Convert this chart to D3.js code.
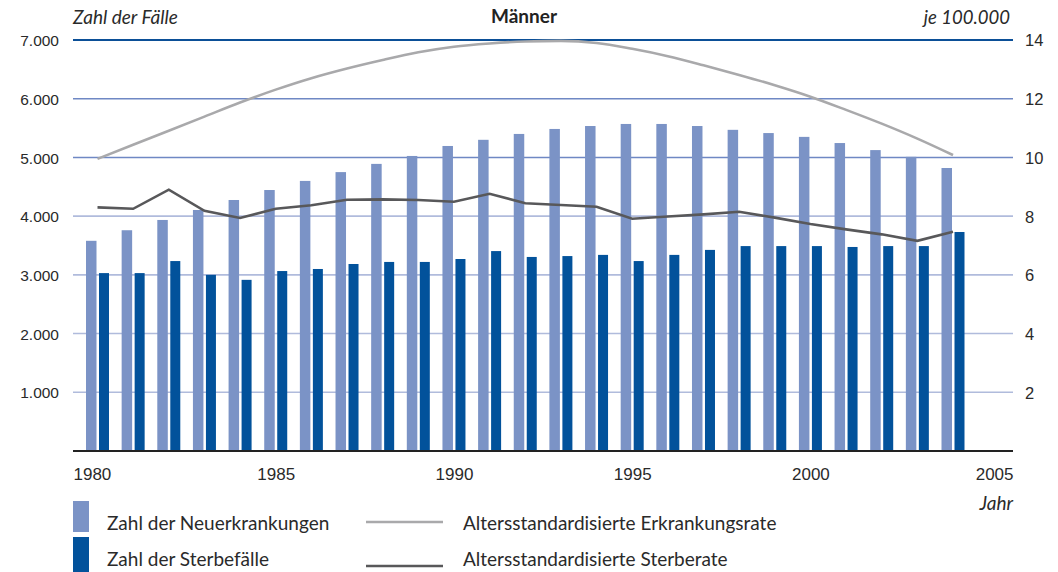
<!DOCTYPE html>
<html>
<head>
<meta charset="utf-8">
<script src="https://cdn.jsdelivr.net/npm/d3@7"></script>
<style>
  html, body { margin: 0; padding: 0; background: #fff; }
  svg { display: block; font-family: "Lato", "Open Sans", sans-serif; }
  .tick text { fill: #2a2a2a; font-variant-numeric: oldstyle-nums; }
</style>
</head>
<body>
<svg id="chart" width="1058" height="572"></svg>
<script>
// Jahre (Kategorien)
const years = [1980, 1981, 1982, 1983, 1984, 1985, 1986, 1987, 1988, 1989,
               1990, 1991, 1992, 1993, 1994, 1995, 1996, 1997, 1998, 1999,
               2000, 2001, 2002, 2003, 2004];

// Zahl der Neuerkrankungen (linke Achse)
const neuerkrankungen = [3580, 3760, 3935, 4105, 4275, 4445, 4600, 4750, 4890, 5025,
                         5195, 5300, 5400, 5485, 5535, 5570, 5570, 5535, 5470, 5415,
                         5350, 5245, 5125, 5010, 4820];

// Zahl der Sterbefälle (linke Achse)
const sterbefaelle = [3030, 3030, 3235, 3000, 2915, 3065, 3100, 3185, 3220, 3220,
                      3270, 3405, 3305, 3320, 3340, 3235, 3340, 3425, 3490, 3490,
                      3490, 3475, 3490, 3490, 3730];

// Altersstandardisierte Erkrankungsrate je 100.000 (rechte Achse)
const erkrankungsrate = [9.95, 10.43, 10.91, 11.39, 11.87, 12.31, 12.7, 13.03, 13.32, 13.58,
                         13.77, 13.88, 13.95, 13.97, 13.9, 13.7, 13.45, 13.14, 12.81, 12.46,
                         12.07, 11.62, 11.15, 10.64, 10.08];

// Altersstandardisierte Sterberate je 100.000 (rechte Achse)
const sterberate = [8.3, 8.25, 8.9, 8.18, 7.94, 8.25, 8.37, 8.56, 8.57, 8.55,
                    8.49, 8.76, 8.44, 8.38, 8.32, 7.91, 7.99, 8.06, 8.15, 7.95,
                    7.73, 7.55, 7.38, 7.16, 7.47];

// Achsenbeschriftungen
const leftTicks = [1000, 2000, 3000, 4000, 5000, 6000, 7000];
const rightTicks = [2, 4, 6, 8, 10, 12, 14];
const xTicks = [1980, 1985, 1990, 1995, 2000, 2005];

const svg = d3.select("#chart");
const plotLeft = 73, plotRight = 1013;

const de = d3.formatLocale({ decimal: ",", thousands: ".", grouping: [3], currency: ["", " €"] });
const fmt = de.format(",");

const x = d3.scaleLinear().domain([1980, 2004]).range([97.5, 953]);
const y = d3.scaleLinear().domain([0, 7000]).range([451, 40]);
const yR = d3.scaleLinear().domain([0, 14]).range([451, 40]);

const colLight = "#7b93c6";
const colDark = "#02529b";

// Gitterlinien
svg.append("g")
  .selectAll("line")
  .data(leftTicks)
  .join("line")
  .attr("x1", plotLeft).attr("x2", plotRight)
  .attr("y1", d => y(d)).attr("y2", d => y(d))
  .attr("stroke", d => d === 7000 ? "#0b4f97" : (d >= 5000 ? "#6f88c4" : "#b0bbdc"))
  .attr("stroke-width", d => d === 7000 ? 2.2 : 1.6);

// Balken: Neuerkrankungen
svg.append("g")
  .selectAll("rect")
  .data(years)
  .join("rect")
  .attr("x", (d) => x(d) - 11.5)
  .attr("width", 10.5)
  .attr("y", (d, i) => y(neuerkrankungen[i]))
  .attr("height", (d, i) => y(0) - y(neuerkrankungen[i]))
  .attr("fill", colLight);

// Balken: Sterbefälle
svg.append("g")
  .selectAll("rect")
  .data(years)
  .join("rect")
  .attr("x", (d) => x(d) + 1.5)
  .attr("width", 10)
  .attr("y", (d, i) => y(sterbefaelle[i]))
  .attr("height", (d, i) => y(0) - y(sterbefaelle[i]))
  .attr("fill", colDark);

// Raten als Linien
const lineSmooth = d3.line()
  .x((d, i) => x(years[i]))
  .y(d => yR(d))
  .curve(d3.curveMonotoneX);
const lineStraight = d3.line()
  .x((d, i) => x(years[i]))
  .y(d => yR(d));

svg.append("path")
  .datum(erkrankungsrate)
  .attr("d", lineSmooth)
  .attr("fill", "none")
  .attr("stroke", "#a9a9ab")
  .attr("stroke-width", 2.6);

svg.append("path")
  .datum(sterberate)
  .attr("d", lineStraight)
  .attr("fill", "none")
  .attr("stroke", "#58585a")
  .attr("stroke-width", 2.6)
  .attr("stroke-linejoin", "miter");

// Grundlinie
svg.append("line")
  .attr("x1", plotLeft).attr("x2", plotRight)
  .attr("y1", y(0)).attr("y2", y(0))
  .attr("stroke", "#222")
  .attr("stroke-width", 2);

// Linke Achse
const leftAxis = d3.axisLeft(y).tickValues(leftTicks).tickFormat(fmt).tickSize(0).tickPadding(0);
svg.append("g")
  .attr("transform", `translate(59,0)`)
  .call(leftAxis)
  .call(g => g.select(".domain").remove())
  .call(g => g.selectAll("text").attr("font-size", 15.5).attr("dy", "0.36em"));

// Rechte Achse
const rightAxis = d3.axisRight(yR).tickValues(rightTicks).tickSize(0).tickPadding(0);
svg.append("g")
  .attr("transform", `translate(1025,0)`)
  .call(rightAxis)
  .call(g => g.select(".domain").remove())
  .call(g => g.selectAll("text").attr("font-size", 16.5).attr("dy", "0.36em"));

// x-Achse
const xAxis = d3.axisBottom(x).tickValues(xTicks).tickFormat(d3.format("d")).tickSize(0).tickPadding(0);
svg.append("g")
  .attr("transform", `translate(0,${y(0)})`)
  .call(xAxis)
  .call(g => g.select(".domain").remove())
  .call(g => g.selectAll("text")
      .attr("font-size", 17)
      .attr("dy", null)
      .attr("y", 29)
      .attr("text-anchor", d => d === 1980 ? "start" : (d === 2005 ? "end" : "middle"))
      .attr("x", d => d === 1980 ? plotLeft - x(d) : (d === 2005 ? plotRight - x(d) : 0)));

// Überschriften
svg.append("text").attr("x", plotLeft).attr("y", 24)
  .attr("font-size", 19).attr("font-style", "italic").attr("fill", "#2a2a2a")
  .text("Zahl der Fälle");
svg.append("text").attr("x", 524).attr("y", 23)
  .attr("font-size", 19).attr("font-weight", "bold").attr("text-anchor", "middle").attr("fill", "#222")
  .text("Männer");
svg.append("text").attr("x", 1010).attr("y", 24)
  .attr("font-size", 18.5).attr("font-style", "italic").attr("text-anchor", "end").attr("fill", "#2a2a2a")
  .text("je 100.000");
svg.append("text").attr("x", plotRight).attr("y", 510)
  .attr("font-size", 19).attr("font-style", "italic").attr("text-anchor", "end").attr("fill", "#2a2a2a")
  .text("Jahr");

// Legende
const legend = svg.append("g").attr("font-size", 19).attr("fill", "#2a2a2a");
legend.append("rect").attr("x", 73).attr("y", 501).attr("width", 16).attr("height", 31).attr("fill", colLight);
legend.append("rect").attr("x", 73).attr("y", 537).attr("width", 16).attr("height", 35).attr("fill", colDark);
legend.append("text").attr("x", 107).attr("y", 530).text("Zahl der Neuerkrankungen");
legend.append("text").attr("x", 107).attr("y", 566).text("Zahl der Sterbefälle");
legend.append("line").attr("x1", 366).attr("x2", 443).attr("y1", 522).attr("y2", 522)
  .attr("stroke", "#a9a9ab").attr("stroke-width", 2.6);
legend.append("line").attr("x1", 366).attr("x2", 443).attr("y1", 566).attr("y2", 566)
  .attr("stroke", "#58585a").attr("stroke-width", 2.6);
legend.append("text").attr("x", 463).attr("y", 530).text("Altersstandardisierte Erkrankungsrate");
legend.append("text").attr("x", 463).attr("y", 566).text("Altersstandardisierte Sterberate");
</script>
</body>
</html>
